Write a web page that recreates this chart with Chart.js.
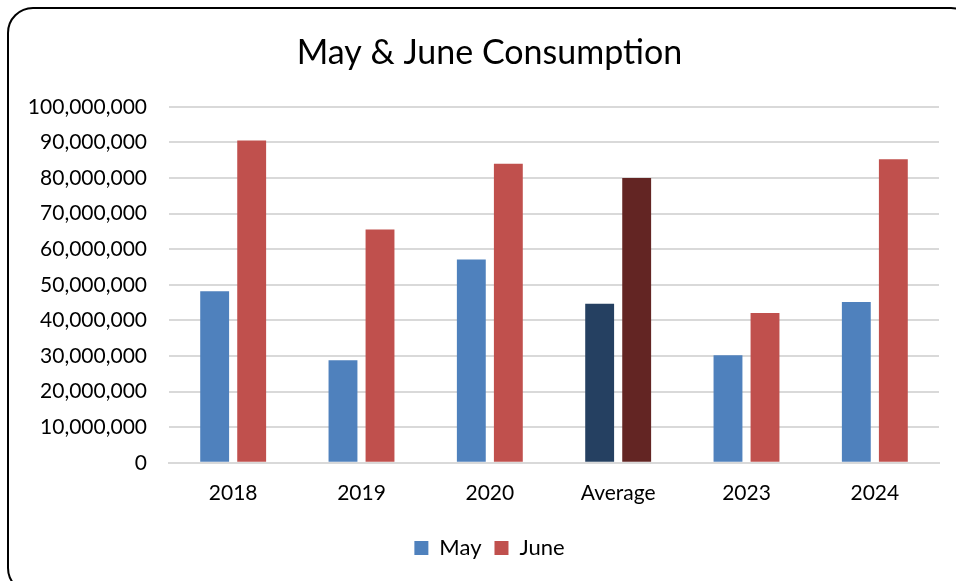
<!DOCTYPE html>
<html>
<head>
<meta charset="utf-8">
<script src="https://cdn.jsdelivr.net/npm/chart.js@4.4.1/dist/chart.umd.min.js"></script>
<style>
  html, body { margin: 0; padding: 0; background: #fff; overflow: hidden; }
  #wrap { position: relative; width: 956px; height: 581px; }
  #frame {
    position: absolute; left: 7px; top: 7px; width: 966px; height: 583px;
    border: 2px solid #000; border-radius: 26px; pointer-events: none;
  }
</style>
</head>
<body>
<div id="wrap">
  <canvas id="chart" width="956" height="581"></canvas>
  <div id="frame"></div>
</div>
<script>
// data
const categories = ["2018", "2019", "2020", "Average", "2023", "2024"];
const mayValues = [48200000, 28800000, 57100000, 44700000, 30200000, 45200000];
const juneValues = [90500000, 65500000, 84000000, 80000000, 42100000, 85300000];
const yTicks = [0, 10000000, 20000000, 30000000, 40000000, 50000000, 60000000, 70000000, 80000000, 90000000, 100000000];

const mayColor = "#4F81BD";
const juneColor = "#C0504D";
// the "Average" column is drawn darker
const mayColors = categories.map(c => c === "Average" ? "#254061" : mayColor);
const juneColors = categories.map(c => c === "Average" ? "#632523" : juneColor);

const FONT = "Lato, 'Open Sans', sans-serif";

// y labels are wider than the axis box, so let the axis reach the canvas edge
// (otherwise the label clip cuts the leading "1" of 100,000,000)
const widenYAxis = {
  id: "widenYAxis",
  afterLayout: function (chart) {
    chart.scales.y.left = 0;
  },
};

var ctx = document.getElementById("chart").getContext("2d");
var myChart = new Chart(ctx, {
  type: "bar",
  data: {
    labels: categories,
    datasets: [
      {
        label: "May",
        data: mayValues,
        backgroundColor: mayColors,
        borderWidth: 0,
        barPercentage: 0.78,
        categoryPercentage: 0.577,
      },
      {
        label: "June",
        data: juneValues,
        backgroundColor: juneColors,
        borderWidth: 0,
        barPercentage: 0.78,
        categoryPercentage: 0.577,
      },
    ],
  },
  plugins: [widenYAxis],
  options: {
    responsive: false,
    animation: false,
    layout: {
      // left padding keeps title and legend centred inside the frame
      padding: { left: 40, right: 17, top: 0, bottom: 12 },
    },
    plugins: {
      title: {
        display: true,
        text: "May & June Consump\u200Ction", // ZWNJ stops the Lato "ti" ligature
        color: "#000",
        font: { family: FONT, size: 34, weight: "normal" },
        padding: { top: 33, bottom: 33 },
      },
      legend: {
        position: "bottom",
        labels: {
          color: "#000",
          font: { family: FONT, size: 22 },
          boxWidth: 14,
          boxHeight: 14,
          padding: 13,
          generateLabels: function (chart) {
            // keep legend swatches at the normal series colours
            return chart.data.datasets.map((ds, i) => ({
              text: ds.label,
              fillStyle: i === 0 ? mayColor : juneColor,
              strokeStyle: i === 0 ? mayColor : juneColor,
              lineWidth: 0,
              fontColor: "#000",
              datasetIndex: i,
            }));
          },
        },
      },
      tooltip: { enabled: false },
    },
    scales: {
      x: {
        grid: { display: false, drawTicks: false },
        border: { display: true, color: "#d9d9d9", width: 2 },
        ticks: {
          color: "#000",
          font: { family: FONT, size: 21 },
          padding: 18,
        },
      },
      y: {
        min: 0,
        max: 100000000,
        afterBuildTicks: function (scale) {
          scale.ticks = yTicks.map(v => ({ value: v }));
        },
        grid: { color: "#d9d9d9", lineWidth: 2, drawTicks: false },
        border: { display: false },
        ticks: {
          color: "#000",
          font: { family: FONT, size: 21 },
          padding: 22,
          callback: v => Number(v).toLocaleString("en-US"),
        },
        afterFit: function (scale) {
          scale.width = 129;
        },
      },
    },
  },
});
</script>
</body>
</html>
